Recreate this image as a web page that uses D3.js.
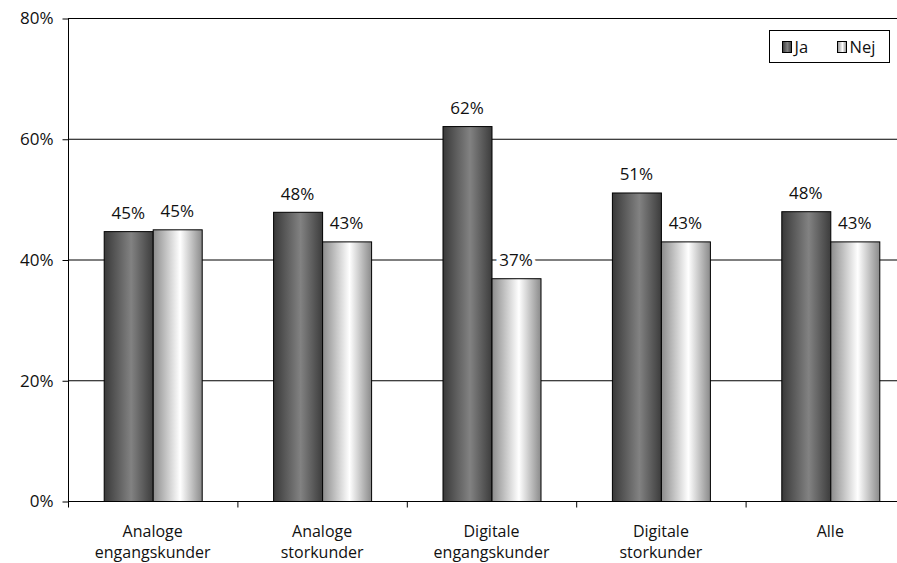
<!DOCTYPE html>
<html>
<head>
<meta charset="utf-8">
<script src="https://d3js.org/d3.v7.min.js"></script>
<style>
  body { margin: 0; background: #fff; }
  svg { display: block; overflow: hidden; }
  text { font-family: "Open Sans", "Noto Sans", sans-serif; fill: #111; }
</style>
</head>
<body>
<div id="chart"></div>
<script>
const categories = [["Analoge", "engangskunder"], ["Analoge", "storkunder"], ["Digitale", "engangskunder"], ["Digitale", "storkunder"], ["Alle"]];
const seriesNames = ["Ja", "Nej"];
const jaValues = [44.7, 47.9, 62.1, 51.1, 48.0];
const nejValues = [45.0, 43.0, 36.9, 43.0, 43.0];
const jaLabels = ["45%", "48%", "62%", "51%", "48%"];
const nejLabels = ["45%", "43%", "37%", "43%", "43%"];
const yTicks = [0, 20, 40, 60, 80];

const W = 897, H = 563;
const margin = {top: 18, left: 68};
const width = 847, height = 483;
const fs = "17px";

const svg = d3.select("#chart").append("svg")
    .attr("width", W).attr("height", H);

const defs = svg.append("defs");
function grad(id, stops) {
  const g = defs.append("linearGradient").attr("id", id)
      .attr("x1", "0%").attr("x2", "100%").attr("y1", "0%").attr("y2", "0%");
  stops.forEach(s => g.append("stop").attr("offset", s[0]).attr("stop-color", s[1]));
}
grad("gJa", [["0%", "#393939"], ["55%", "#828282"], ["100%", "#3c3c3c"]]);
grad("gNej", [["0%", "#8c8c8c"], ["55%", "#ffffff"], ["100%", "#8a8a8a"]]);

const g = svg.append("g").attr("transform", `translate(${margin.left},${margin.top})`);

const x = d3.scaleBand().domain(d3.range(categories.length)).range([0, width]);
const xs = d3.scaleBand().domain(seriesNames).range([x.bandwidth() / 2 - 49, x.bandwidth() / 2 + 49]);
const y = d3.scaleLinear().domain([0, 80]).range([height, 0]);

// gridlines
g.selectAll(".grid").data(yTicks.slice(1)).enter().append("line")
    .attr("x1", 0).attr("x2", width)
    .attr("y1", d => y(d) + 0.5).attr("y2", d => y(d) + 0.5)
    .attr("stroke", "#000").attr("stroke-width", 1);

const series = [
  {name: "Ja", values: jaValues, labels: jaLabels, fill: "url(#gJa)"},
  {name: "Nej", values: nejValues, labels: nejLabels, fill: "url(#gNej)"}
];

series.forEach(s => {
  const grp = g.append("g");
  grp.selectAll("rect").data(s.values).enter().append("rect")
      .attr("x", (d, i) => x(i) + xs(s.name) + 0.5)
      .attr("y", d => y(d) + 0.5)
      .attr("width", xs.bandwidth())
      .attr("height", d => y(0) - y(d))
      .attr("fill", s.fill)
      .attr("stroke", "#000").attr("stroke-width", 1);
  grp.selectAll("text").data(s.values).enter().append("text")
      .attr("x", (d, i) => x(i) + xs(s.name) + xs.bandwidth() / 2)
      .attr("y", d => y(d) - 12)
      .attr("text-anchor", "middle")
      .attr("font-size", fs)
      .each(function(d, i) {
        const t = d3.select(this).text(s.labels[i]);
        if (s.name === "Nej" && i === 2) t.style("paint-order", "stroke").attr("stroke", "#fff").attr("stroke-width", 7);
      });
});

// y axis
const yAxis = g.append("g").attr("transform", "translate(0.5,0)")
    .call(d3.axisLeft(y).tickValues(yTicks).tickFormat(d => d + "%").tickSize(6).tickPadding(9));
yAxis.select(".domain").attr("d", `M0,0V${height}`);
yAxis.selectAll("text").attr("font-size", fs).attr("dy", "0.35em").style("font-family", "'Open Sans', 'Noto Sans', sans-serif");
yAxis.selectAll("line").attr("transform", "translate(0,0.5)");

// x axis
const xAxisG = g.append("g").attr("transform", `translate(0,${height + 0.5})`);
xAxisG.append("line").attr("x1", 0).attr("x2", width).attr("stroke", "#000");
xAxisG.selectAll(".tk").data(d3.range(categories.length + 1)).enter().append("line")
    .attr("x1", d => (d < categories.length ? x(d) : width) + 0.5)
    .attr("x2", d => (d < categories.length ? x(d) : width) + 0.5)
    .attr("y1", 0).attr("y2", 6).attr("stroke", "#000");
xAxisG.selectAll(".lbl").data(categories).enter().append("text")
    .attr("text-anchor", "middle").attr("font-size", "16px")
    .attr("x", (d, i) => x(i) + x.bandwidth() / 2)
    .attr("y", 35)
    .each(function(d) {
      d3.select(this).selectAll("tspan").data(d).enter().append("tspan")
          .attr("x", d3.select(this).attr("x"))
          .attr("dy", (t, j) => j === 0 ? 0 : 21)
          .text(t => t);
    });

// legend
const lg = svg.append("g").attr("transform", "translate(769.5,30.5)");
lg.append("rect").attr("width", 120).attr("height", 32).attr("fill", "#fff").attr("stroke", "#000");
const items = [{name: "Ja", fill: "url(#gJa)", x: 13}, {name: "Nej", fill: "url(#gNej)", x: 68}];
items.forEach(it => {
  lg.append("rect").attr("x", it.x).attr("y", 11).attr("width", 9).attr("height", 11)
      .attr("fill", it.fill).attr("stroke", "#000");
  lg.append("text").attr("x", it.x + 12).attr("y", 22).attr("font-size", "16.5px").text(it.name);
});
</script>
</body>
</html>
